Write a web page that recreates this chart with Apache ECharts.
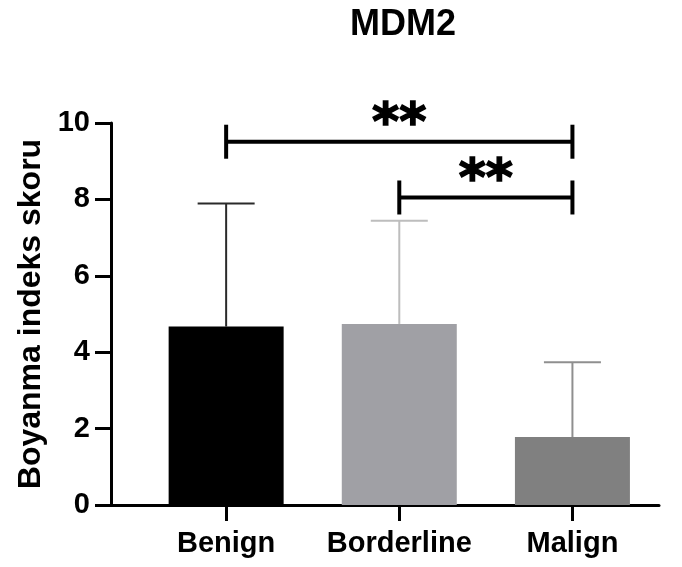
<!DOCTYPE html>
<html>
<head>
<meta charset="utf-8">
<script src="https://cdn.jsdelivr.net/npm/echarts@6/dist/echarts.min.js"></script>
<style>
html,body{margin:0;padding:0;background:#fff;}
#chart{width:682px;height:567px;}
</style>
</head>
<body>
<div id="chart"></div>
<script>
// ---- data ----
const categories = ['Benign', 'Borderline', 'Malign'];
const means = [4.67, 4.74, 1.78];
const sds = [3.22, 2.70, 1.96];
const barColors = ['#000000', '#a0a0a5', '#808080'];
const errColors = ['#2a2a2a', '#bdbdbd', '#8f8f8f'];
const yTicks = [0, 2, 4, 6, 8, 10];
const sigFrom = [0, 1];
const sigTo = [2, 2];
const sigY = [9.51, 8.05];
const sigLabels = ['**', '**'];
const titleText = 'MDM2';
const yName = 'Boyanma indeks skoru';

const chart = echarts.init(document.getElementById('chart'), null, {renderer: 'canvas'});
const FONT = 'Liberation Sans, Arial, sans-serif';

const barData = categories.map((c, i) => [i, means[i]]);
const errData = categories.map((c, i) => [i, means[i], means[i] + sds[i]]);
const sigData = sigFrom.map((f, i) => [f, sigTo[i], sigY[i], i]);

const option = {
  animation: false,
  backgroundColor: '#ffffff',
  title: {
    text: titleText,
    left: 398,
    top: 2,
    textAlign: 'center',
    textStyle: {fontFamily: FONT, fontWeight: 'bold', fontSize: 36, color: '#000'}
  },
  grid: {left: 111, right: 23, top: 123, bottom: 62, containLabel: false},
  xAxis: {
    type: 'value',
    min: -0.665,
    max: 2.5,
    axisLine: {show: true, onZero: false, lineStyle: {color: '#000', width: 3}},
    axisTick: {show: true, length: 16, lineStyle: {color: '#000', width: 3}, customValues: [0, 1, 2]},
    axisLabel: {
      show: true, margin: 24, customValues: [0, 1, 2],
      formatter: v => categories[Math.round(v)] || '',
      fontFamily: FONT, fontWeight: 'bold', fontSize: 29, color: '#000'
    },
    splitLine: {show: false}
  },
  yAxis: {
    type: 'value',
    min: 0, max: 10, interval: 2,
    name: yName,
    nameLocation: 'middle',
    nameGap: 64,
    nameTextStyle: {fontFamily: FONT, fontWeight: 'bold', fontSize: 32, color: '#000'},
    axisLine: {show: true, onZero: false, lineStyle: {color: '#000', width: 3}},
    axisTick: {show: true, length: 16, lineStyle: {color: '#000', width: 3}},
    axisLabel: {
      margin: 21, fontFamily: FONT, fontWeight: 'bold', fontSize: 29, color: '#000',
      formatter: v => (yTicks.indexOf(v) >= 0 ? String(v) : '')
    },
    splitLine: {show: false}
  },
  series: [
    {
      type: 'bar',
      data: barData.map((d, i) => ({value: d, itemStyle: {color: barColors[i]}})),
      barWidth: 115,
      z: 2
    },
    {
      type: 'custom',
      data: errData,
      z: 3,
      renderItem: function (params, api) {
        const i = api.value(0);
        const base = api.coord([i, api.value(1)]);
        const top = api.coord([i, api.value(2)]);
        const half = 28.5;
        const col = errColors[params.dataIndex];
        return {
          type: 'group',
          children: [
            {type: 'line', shape: {x1: base[0], y1: base[1], x2: top[0], y2: top[1]}, style: {stroke: col, lineWidth: 2}},
            {type: 'line', shape: {x1: top[0] - half, y1: top[1], x2: top[0] + half, y2: top[1]}, style: {stroke: col, lineWidth: 2}}
          ]
        };
      }
    },
    {
      type: 'custom',
      data: sigData,
      z: 4,
      renderItem: function (params, api) {
        const a = api.coord([api.value(0), api.value(2)]);
        const b = api.coord([api.value(1), api.value(2)]);
        const idx = api.value(3);
        const fs = 52;
        return {
          type: 'group',
          children: [
            {type: 'line', shape: {x1: a[0], y1: a[1], x2: b[0], y2: b[1]}, style: {stroke: '#000', lineWidth: 4}},
            {type: 'line', shape: {x1: a[0], y1: a[1] - 17, x2: a[0], y2: a[1] + 17}, style: {stroke: '#000', lineWidth: 4}},
            {type: 'line', shape: {x1: b[0], y1: b[1] - 17, x2: b[0], y2: b[1] + 17}, style: {stroke: '#000', lineWidth: 4}},
            {type: 'text', style: {
              text: sigLabels[idx], x: (a[0] + b[0]) / 2, y: a[1] - 28 + 0.23 * fs,
              textAlign: 'center', textVerticalAlign: 'middle',
              fontFamily: 'DejaVu Sans', fontWeight: 'bold', fontSize: fs, fill: '#000',
              stroke: '#000', lineWidth: 1.5
            }}
          ]
        };
      }
    }
  ]
};
chart.setOption(option);
</script>
</body>
</html>
